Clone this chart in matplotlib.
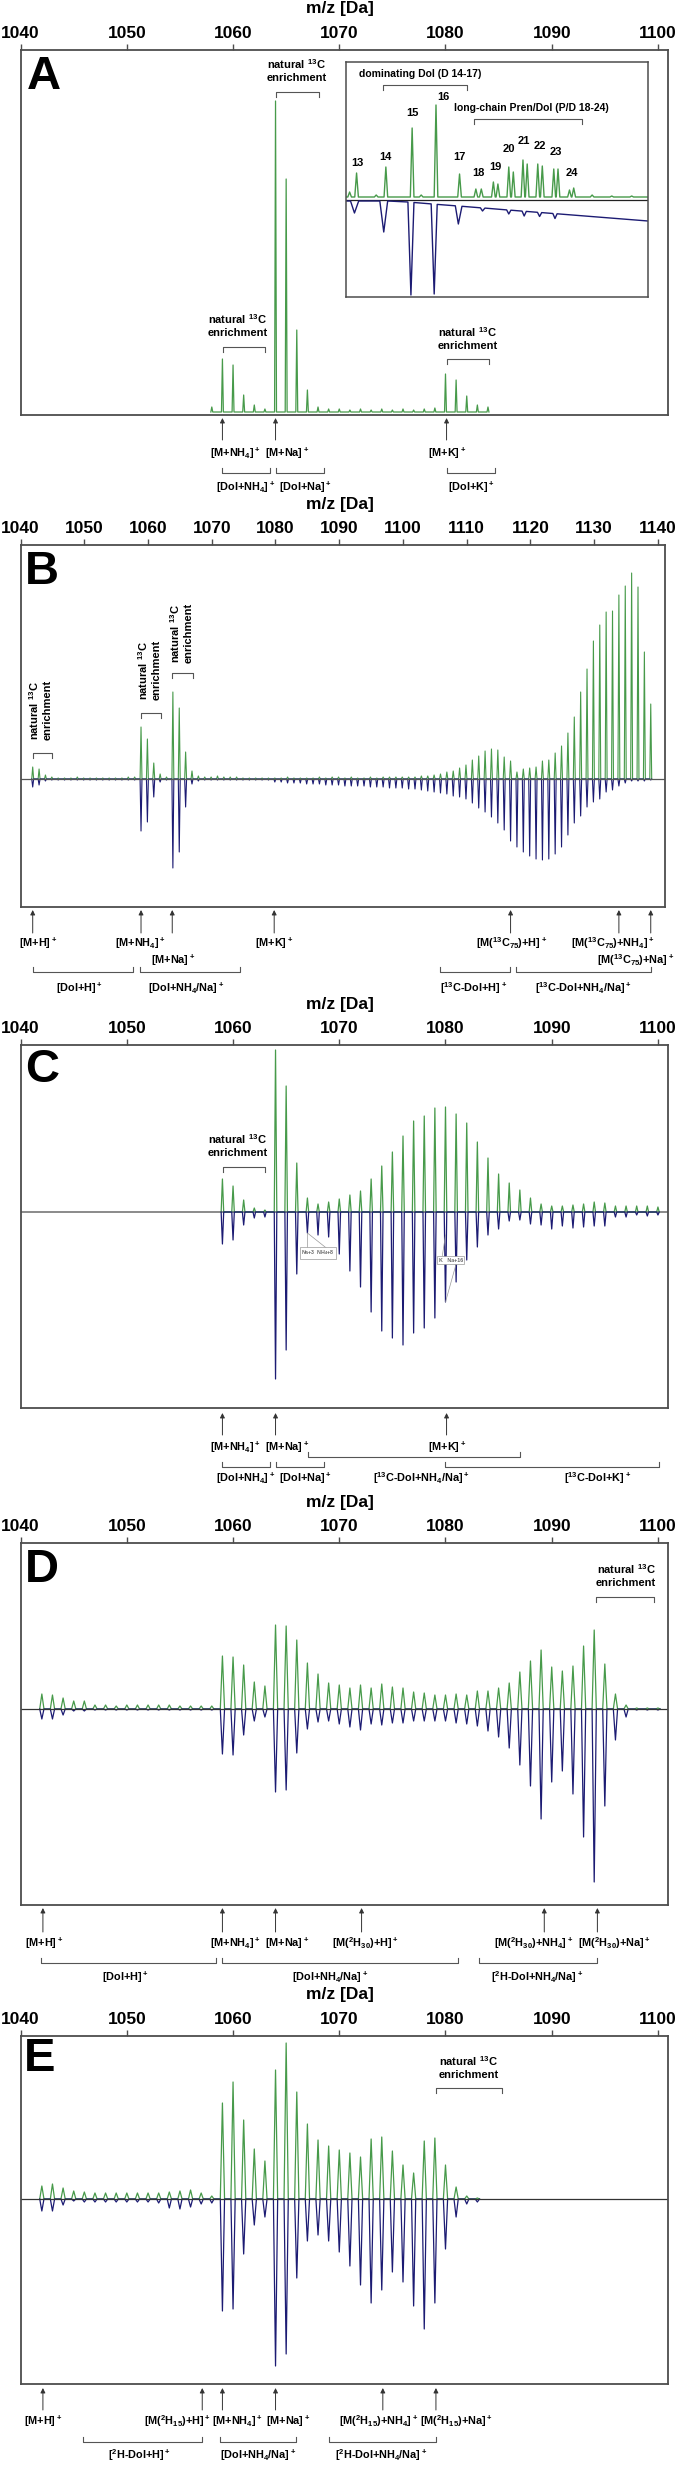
import matplotlib
matplotlib.use("Agg")
import matplotlib.pyplot as plt
import matplotlib.transforms as mtransforms

plt.rcParams['font.family'] = ['Liberation Sans', 'DejaVu Sans']
plt.rcParams['font.weight'] = 'bold'
plt.rcParams['mathtext.default'] = 'regular'

GREEN = '#479a4a'
BLUE = '#1c1b73'
GREY = '#4d4d4d'
BRK = '#555555'

# ---------------- data (intensities in arbitrary units, + = green, - = blue) ----------------
# panel A: only the green spectrum is shown in the main frame
a_mz = list(range(1058, 1085))
a_green = [5, 53, 47, 17, 7, 3, 311, 233, 82, 22, 5, 3, 3, 2, 3, 2, 3, 2, 3, 2, 3, 4,
           38, 32, 16, 7, 5]

# panel A inset (chain lengths 13-24), x in % of inset width
ins_pos = [1.2, 3.5, 10.0, 13.2, 21.9, 24.9, 29.8, 37.6, 43.0, 44.8, 48.8, 50.3, 53.9,
           55.4, 58.6, 60.0, 63.5, 65.0, 68.8, 70.2, 74.0, 75.4, 81.5, 88.0, 94.6]
ins_green = [5, 24, 2, 30, 69, 2, 92, 23, 8, 8, 15, 13, 30, 25, 37, 33, 33, 31, 28, 28,
             7, 9, 2, 1, 1]
ins_blue_x = [0, 1.5, 2.8, 4.2, 11.2, 12.5, 13.8, 20.5, 21.5, 22.5, 28.2, 29.2, 30.2,
              36.2, 37.2, 38.4, 44.5, 45.2, 46, 53.2, 53.9, 54.6, 58.3, 59, 59.7, 63.4,
              64.1, 64.8, 68.5, 69.2, 69.9, 100]
ins_blue_y = [-1, -1, -13, -1, -1, -32, -1, -2, -95, -2.5, -3.9, -94, -4.4, -5.8, -24,
              -6.3, -7.8, -11, -8.1, -9.9, -14, -10.2, -11.1, -16, -11.4, -12.3, -16.5,
              -12.6, -13.5, -18.5, -13.8, -21]
ins_labels = ['13', '14', '15', '16', '17', '18', '19', '20', '21', '22', '23', '24']
ins_label_x = [3.8, 12.9, 21.9, 32.1, 37.5, 43.8, 49.6, 53.9, 59.0, 64.1, 69.6, 74.7]
ins_label_y = [37, 43, 87, 103, 43, 27, 33, 51, 59, 54, 48, 27]

# panel B
b_mz = [m + 0.9 for m in range(1041, 1139)]
b_green = [12, 10, 4, 2, 1, 1, 1, 2, 1, 1,
           1, 1, 1, 1, 1, 2, 2, 52, 40, 16,
           5, 2, 87, 71, 27, 8, 3, 2, 2, 3,
           2, 2, 2, 1, 1, 1, 1, 1, 1, 1,
           2, 1, 1, 1, 1, 2, 1, 2, 2, 1,
           2, 1, 1, 2, 1, 2, 2, 2, 2, 2,
           2, 3, 3, 4, 5, 7, 8, 11, 14, 19,
           23, 28, 30, 29, 22, 18, 7, 10, 11, 12,
           18, 19, 26, 33, 46, 62, 87, 110, 138, 154,
           167, 168, 184, 193, 206, 192, 127, 75]
b_blue = [8, 6, 2, 1, 1, 1, 1, 1, 1, 1,
          1, 1, 1, 1, 1, 1, 1, 52, 43, 18,
          3, 1, 89, 73, 28, 5, 2, 1, 1, 1,
          1, 1, 1, 1, 1, 1, 1, 1, 3, 3,
          4, 4, 4, 5, 5, 5, 6, 6, 6, 7,
          7, 7, 7, 8, 8, 8, 9, 9, 9, 10,
          10, 11, 12, 13, 14, 15, 17, 18, 20, 24,
          29, 33, 38, 44, 51, 62, 68, 73, 77, 80,
          81, 80, 75, 68, 56, 44, 37, 28, 23, 20,
          13, 11, 7, 4, 2, 2, 2, 1]

# panel C
c_mz = list(range(1059, 1101))
c_green = [33, 26, 12, 4, 2, 162, 126, 49, 14, 8, 10, 13, 17, 21, 33, 46, 60, 76, 91, 96,
           104, 105, 98, 89, 70, 54, 38, 29, 22, 14, 8, 6, 6, 7, 8, 10, 9, 6, 6, 6, 6, 5]
c_blue = [32, 28, 13, 6, 5, 167, 138, 62, 21, 23, 25, 42, 59, 75, 100, 119, 126, 133, 121,
          116, 106, 90, 70, 48, 35, 23, 17, 9, 8, 12, 13, 17, 14, 16, 15, 14, 14, 5, 5, 3,
          4, 3]

# panel D
d_mz = list(range(1042, 1101))
d_green = [15, 14, 11, 8, 8, 4, 4, 3, 4, 4, 4, 4, 4, 3, 3, 3, 3,
           53, 52, 44, 27, 23, 84, 83, 69, 46, 35, 26, 24, 21, 24, 21,
           25, 22, 21, 17, 16, 14, 14, 15, 14, 18, 18, 21, 26, 37, 48,
           59, 42, 38, 43, 63, 79, 45, 15, 4, 1, 1, 1]
d_blue = [10, 10, 6, 2, 2, 1, 1, 1, 1, 1, 1, 1, 1, 1, 1, 1, 1,
          45, 46, 26, 12, 8, 83, 81, 44, 20, 13, 12, 15, 18, 21, 15,
          16, 14, 14, 12, 12, 12, 12, 14, 15, 17, 22, 28, 39, 56, 77,
          110, 73, 62, 85, 128, 173, 97, 31, 8, 1, 1, 1]

# panel E
e_mz = list(range(1042, 1084))
e_green = [13, 15, 11, 8, 7, 6, 6, 6, 6, 6, 6, 6, 7, 8, 9, 6, 3,
           96, 117, 79, 50, 38, 129, 156, 107, 75, 59, 53, 49, 46, 42, 60,
           62, 48, 34, 26, 58, 61, 34, 12, 3, 1]
e_blue = [12, 12, 6, 2, 3, 3, 3, 3, 3, 3, 3, 4, 9, 10, 8, 5, 4,
          112, 110, 55, 26, 18, 167, 155, 79, 42, 36, 42, 53, 67, 86, 104,
          91, 73, 83, 107, 130, 104, 50, 18, 5, 3]

NAT = 'natural $^{13}$C\nenrichment'
LBL = 7.8

# ---------------- figure ----------------
W, H = 678, 2484
fig = plt.figure(figsize=(W / 100, H / 100), dpi=100)


def fy(py):
    return 1 - py / H


def panel(top, bottom, base, right, xmax, ticks, letter, letter_xy):
    ax = fig.add_axes([20.6 / W, fy(bottom), (right - 20.6) / W, (bottom - top) / H])
    ax.set_xlim(1040, xmax)
    ax.set_ylim(-(bottom - base), base - top)
    ax.set_yticks([])
    ax.set_xticks(ticks)
    ax.xaxis.tick_top()
    ax.tick_params(axis='x', direction='out', length=4.5, width=1, color=GREY,
                   pad=2, labelsize=12.5)
    for s in ax.spines.values():
        s.set_color(GREY)
        s.set_linewidth(1.3)
    fig.text(340 / W, fy(top - 41), 'm/z [Da]', ha='center', va='center', fontsize=12.5)
    fig.text(letter_xy[0] / W, fy(letter_xy[1]), letter, ha='center', va='center',
             fontsize=34, fontweight='bold')
    return ax


def blend(ax):
    return mtransforms.blended_transform_factory(ax.transData, fig.transFigure)


def note(ax, x, py, s, size=LBL, **kw):
    ax.text(x, fy(py), s, transform=blend(ax), ha='center', va='center', fontsize=size,
            clip_on=False, multialignment='center', **kw)


def bracket(ax, x0, x1, py_line, py_leg, color=BRK):
    ax.plot([x0, x0, x1, x1], [fy(py_leg), fy(py_line), fy(py_line), fy(py_leg)],
            transform=blend(ax), color=color, lw=0.8, clip_on=False)


def arrow(ax, x, py_head, py_tail, color='#333333'):
    tr = blend(ax)
    ax.annotate('', xy=(x, fy(py_head)), xytext=(x, fy(py_tail)), xycoords=tr,
                textcoords=tr, annotation_clip=False,
                arrowprops=dict(arrowstyle='-|>', color=color, lw=0.7,
                                mutation_scale=7, shrinkA=0, shrinkB=0))


def trace(ax, mz, h, w, color, sign=1, lw=0.9):
    xs, ys = [], []
    for m, v in zip(mz, h):
        xs += [m - w, m, m + w]
        ys += [0, sign * v, 0]
    ax.plot(xs, ys, color=color, lw=lw, solid_joinstyle='round')


ticks60 = [1040, 1050, 1060, 1070, 1080, 1090, 1100]
ticks100 = list(range(1040, 1141, 10))

# ---- A ----
axA = panel(50, 415, 412, 667.5, 1100.9, ticks60, 'A', (44, 77))
trace(axA, a_mz, a_green, 0.09, GREEN)
note(axA, 1066.0, 70, NAT, size=8)
bracket(axA, 1064.0, 1068.1, 92, 97)
note(axA, 1060.4, 325, NAT, size=8)
bracket(axA, 1059.1, 1063.0, 347, 352)
note(axA, 1082.05, 338, NAT, size=8)
bracket(axA, 1080.1, 1084.1, 359, 364)
for x in [1059.0, 1064.0, 1080.1]:
    arrow(axA, x, 418, 440)
note(axA, 1060.2, 453, '[M+NH$_4$]$^+$')
note(axA, 1065.1, 453, '[M+Na]$^+$')
note(axA, 1080.2, 453, '[M+K]$^+$')
for x0, x1 in [(1059.0, 1063.5), (1064.0, 1068.6), (1080.1, 1084.7)]:
    bracket(axA, x0, x1, 473, 468)
note(axA, 1061.2, 487, '[Dol+NH$_4$]$^+$')
note(axA, 1066.8, 487, '[Dol+Na]$^+$')
note(axA, 1082.4, 487, '[Dol+K]$^+$')

# inset
axI = fig.add_axes([346 / W, fy(297), (648 - 346) / W, (297 - 62) / H])
axI.set_xlim(0, 100)
axI.set_ylim(-97, 138)
axI.set_xticks([])
axI.set_yticks([])
for s in axI.spines.values():
    s.set_color(GREY)
    s.set_linewidth(1.1)
axI.axhline(0, color='#222222', lw=0.9)
gx, gy = [0], [3]
for p, v in zip(ins_pos, ins_green):
    gx += [p - 0.6, p, p + 0.6]
    gy += [3, 3 + v, 3]
gx.append(100)
gy.append(3)
axI.plot(gx, gy, color=GREEN, lw=1.0)
axI.plot(ins_blue_x, ins_blue_y, color=BLUE, lw=1.0)
for lab, x, y in zip(ins_labels, ins_label_x, ins_label_y):
    axI.text(x, y, lab, ha='center', va='center', fontsize=8)
axI.text(24.6, 126, 'dominating Dol (D 14-17)', ha='center', va='center', fontsize=7.5)
axI.plot([12.1, 12.1, 40.1, 40.1], [110, 115, 115, 110], color=BRK, lw=0.8)
axI.text(61.5, 92, 'long-chain Pren/Dol (P/D 18-24)', ha='center', va='center',
         fontsize=7.5)
axI.plot([42.3, 42.3, 78.2, 78.2], [76, 81, 81, 76], color=BRK, lw=0.8)

# ---- B ----
axB = panel(545, 907, 779, 665.4, 1141.2, ticks100, 'B', (42, 572))
trace(axB, b_mz, b_green, 0.15, GREEN, lw=0.8)
trace(axB, b_mz, b_blue, 0.15, BLUE, sign=-1, lw=0.8)
axB.axhline(0, color='#555555', lw=0.9)
for (cx, cy), (x0, x1, yl) in zip([(1043.0, 710), (1060.2, 670), (1065.2, 633)],
                                  [(1041.9, 1045.0, 753), (1058.9, 1062.1, 713),
                                   (1063.8, 1067.0, 673)]):
    note(axB, cx, cy, NAT, size=8, rotation=90)
    bracket(axB, x0, x1, yl, yl + 5)
for x in [1041.9, 1058.9, 1063.8, 1079.8, 1116.9, 1133.9, 1138.9]:
    arrow(axB, x, 910, 933)
note(axB, 1042.8, 943, '[M+H]$^+$')
note(axB, 1058.8, 943, '[M+NH$_4$]$^+$')
note(axB, 1079.8, 943, '[M+K]$^+$')
note(axB, 1117.0, 943, '[M($^{13}$C$_{75}$)+H]$^+$')
note(axB, 1132.9, 943, '[M($^{13}$C$_{75}$)+NH$_4$]$^+$')
note(axB, 1063.9, 960, '[M+Na]$^+$')
note(axB, 1136.6, 960, '[M($^{13}$C$_{75}$)+Na]$^+$')
for x0, x1 in [(1041.9, 1057.6), (1058.8, 1074.4), (1105.9, 1116.8), (1117.8, 1138.9)]:
    bracket(axB, x0, x1, 972, 967)
note(axB, 1049.2, 988, '[Dol+H]$^+$')
note(axB, 1066.0, 988, '[Dol+NH$_4$/Na]$^+$')
note(axB, 1111.1, 988, '[$^{13}$C-Dol+H]$^+$')
note(axB, 1128.3, 988, '[$^{13}$C-Dol+NH$_4$/Na]$^+$')

# ---- C ----
axC = panel(1045, 1408, 1212, 667.5, 1100.9, ticks60, 'C', (42, 1070))
axC.axhline(0, color='#8a8a8a', lw=1.4)
trace(axC, c_mz, c_green, 0.12, GREEN)
trace(axC, c_mz, c_blue, 0.12, BLUE, sign=-1)
note(axC, 1060.4, 1145, NAT, size=8)
bracket(axC, 1059.1, 1063.0, 1167, 1172)
boxkw = dict(boxstyle='square,pad=0.25', fc='white', ec='#999999', lw=0.5)
note(axC, 1068.0, 1253, 'Na+3  NH$_4$+8', size=3.8, color='#666666', bbox=boxkw)
note(axC, 1080.5, 1260, 'K   Na+16', size=3.8, color='#666666', bbox=boxkw)
for x0, y0, x1, y1 in [(1067.0, 1233, 1067.0, 1249), (1067.0, 1233, 1068.9, 1249),
                       (1080.0, 1235, 1079.7, 1256), (1081.0, 1264, 1080.0, 1302)]:
    axC.plot([x0, x1], [fy(y0), fy(y1)], transform=blend(axC), color='#999999', lw=0.5,
             clip_on=False)
for x in [1059.0, 1064.0, 1080.1]:
    arrow(axC, x, 1413, 1435)
note(axC, 1060.2, 1447, '[M+NH$_4$]$^+$')
note(axC, 1065.1, 1447, '[M+Na]$^+$')
note(axC, 1080.2, 1447, '[M+K]$^+$')
bracket(axC, 1067.1, 1087.0, 1457, 1452)
for x0, x1 in [(1059.0, 1063.5), (1064.0, 1068.6), (1080.0, 1100.1)]:
    bracket(axC, x0, x1, 1467, 1462)
note(axC, 1061.2, 1478, '[Dol+NH$_4$]$^+$')
note(axC, 1066.8, 1478, '[Dol+Na]$^+$')
note(axC, 1077.7, 1478, '[$^{13}$C-Dol+NH$_4$/Na]$^+$')
note(axC, 1094.3, 1478, '[$^{13}$C-Dol+K]$^+$')

# ---- D ----
axD = panel(1543, 1905, 1709, 667.5, 1100.9, ticks60, 'D', (42, 1570))
trace(axD, d_mz, d_green, 0.2, GREEN)
trace(axD, d_mz, d_blue, 0.2, BLUE, sign=-1)
axD.axhline(0, color='#333333', lw=0.9)
note(axD, 1097.0, 1575, NAT, size=8)
bracket(axD, 1094.2, 1099.6, 1597, 1602)
for x in [1042.1, 1059.0, 1064.0, 1072.1, 1089.3, 1094.3]:
    arrow(axD, x, 1908, 1932)
note(axD, 1042.2, 1943, '[M+H]$^+$')
note(axD, 1060.2, 1943, '[M+NH$_4$]$^+$')
note(axD, 1065.1, 1943, '[M+Na]$^+$')
note(axD, 1072.5, 1943, '[M($^2$H$_{30}$)+H]$^+$')
note(axD, 1088.3, 1943, '[M($^2$H$_{30}$)+NH$_4$]$^+$')
note(axD, 1095.9, 1943, '[M($^2$H$_{30}$)+Na]$^+$')
for x0, x1 in [(1041.9, 1058.4), (1059.0, 1081.2), (1083.2, 1094.3)]:
    bracket(axD, x0, x1, 1963, 1958)
note(axD, 1049.9, 1977, '[Dol+H]$^+$')
note(axD, 1069.1, 1977, '[Dol+NH$_4$/Na]$^+$')
note(axD, 1088.6, 1977, '[$^2$H-Dol+NH$_4$/Na]$^+$')

# ---- E ----
axE = panel(2036, 2384, 2199, 667.5, 1100.9, ticks60, 'E', (40, 2059))
trace(axE, e_mz, e_green, 0.2, GREEN)
trace(axE, e_mz, e_blue, 0.2, BLUE, sign=-1)
axE.axhline(0, color='#333333', lw=0.9)
note(axE, 1082.2, 2067, NAT, size=8)
bracket(axE, 1079.1, 1085.3, 2088, 2093)
for x in [1042.1, 1057.1, 1059.0, 1064.0, 1074.1, 1079.1]:
    arrow(axE, x, 2388, 2410)
note(axE, 1042.1, 2421, '[M+H]$^+$')
note(axE, 1054.8, 2421, '[M($^2$H$_{15}$)+H]$^+$')
note(axE, 1060.4, 2421, '[M+NH$_4$]$^+$')
note(axE, 1065.2, 2421, '[M+Na]$^+$')
note(axE, 1073.7, 2421, '[M($^2$H$_{15}$)+NH$_4$]$^+$')
note(axE, 1081.0, 2421, '[M($^2$H$_{15}$)+Na]$^+$')
for x0, x1 in [(1045.9, 1057.1), (1058.8, 1065.9), (1069.0, 1079.1)]:
    bracket(axE, x0, x1, 2442, 2437)
note(axE, 1051.2, 2455, '[$^2$H-Dol+H]$^+$')
note(axE, 1062.4, 2455, '[Dol+NH$_4$/Na]$^+$')
note(axE, 1073.9, 2455, '[$^2$H-Dol+NH$_4$/Na]$^+$')

fig.savefig('out.png', dpi=100)
